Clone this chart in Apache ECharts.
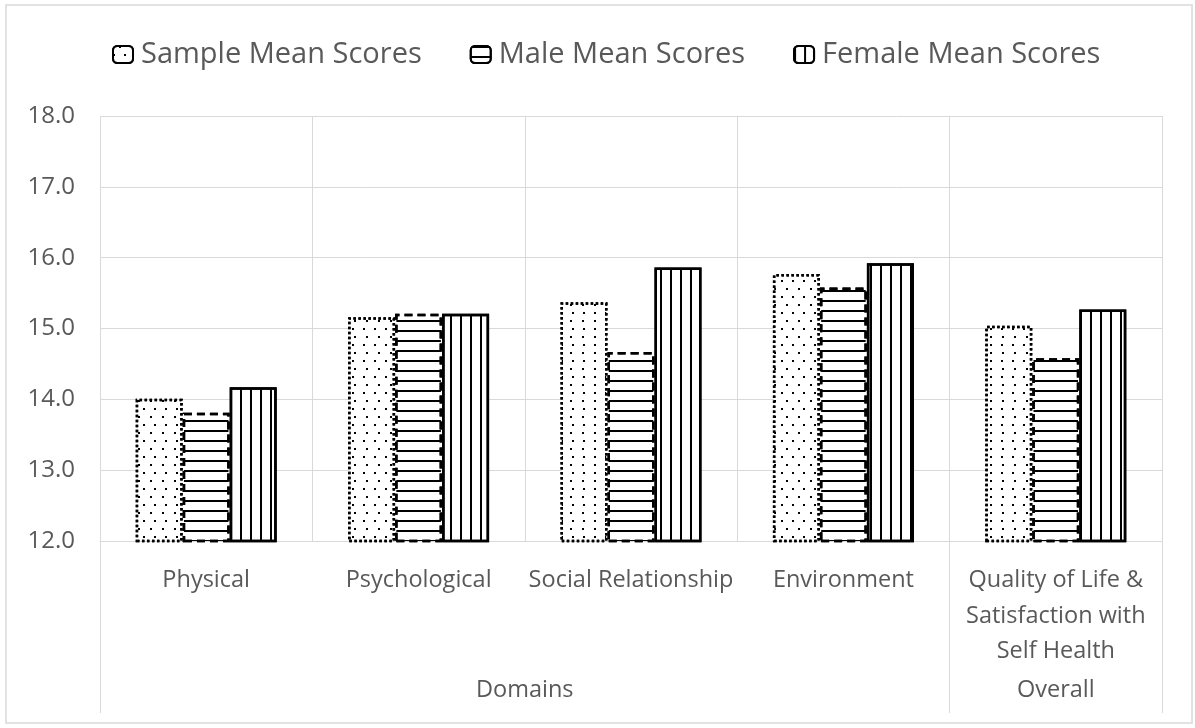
<!DOCTYPE html>
<html>
<head>
<meta charset="utf-8">
<script src="https://cdn.jsdelivr.net/npm/echarts@6/dist/echarts.min.js"></script>
<style>
  html, body { margin: 0; padding: 0; background: #fff; }
  #main { width: 1195px; height: 728px; }
</style>
</head>
<body>
<div id="main"></div>
<script>
// values
const categories = ['Physical', 'Psychological', 'Social Relationship', 'Environment',
    'Quality of Life &\nSatisfaction with\nSelf Health'];
const sampleMean = [14.01, 15.16, 15.37, 15.77, 15.04];
const maleMean = [13.81, 15.21, 14.67, 15.58, 14.58];
const femaleMean = [14.17, 15.21, 15.86, 15.92, 15.27];
const groupNames = ['Domains', 'Overall'];
const groupCenters = [2, 4.5];   // in category units
const groupEdges = [0, 4, 5];

const chart = echarts.init(document.getElementById('main'));
const font = '"Open Sans", "Noto Sans", sans-serif';
const gray = '#595959';
const gridColor = '#d9d9d9';

const option = {
    textStyle: { fontFamily: font },
    graphic: [{
        type: 'rect',
        shape: { x: 6, y: 5, width: 1186, height: 718 },
        style: { fill: 'none', stroke: gridColor, lineWidth: 1.5 },
        silent: true
    }],
    legend: {
        top: 35,
        left: 107,
        itemWidth: 20,
        itemHeight: 17,
        itemGap: 48,
        textStyle: { fontSize: 29, color: gray, fontFamily: font, padding: [0, 0, 0, 3] }
    },
    grid: { left: 100, right: 33, top: 116, bottom: 187 },
    xAxis: [{
        type: 'category',
        data: categories,
        axisLine: { lineStyle: { color: gridColor } },
        axisTick: { show: false },
        splitLine: { show: true, interval: 0, lineStyle: { color: gridColor, width: 1 } },
        axisLabel: {
            interval: 0, margin: 22, fontSize: 23.5, color: gray,
            lineHeight: 35.5, fontFamily: font
        }
    }, {
        type: 'value',
        min: 0,
        max: 5,
        position: 'bottom',
        axisLine: { show: false },
        splitLine: { show: false },
        axisTick: {
            show: true, length: 172, customValues: groupEdges,
            lineStyle: { color: gridColor, width: 1 }
        },
        axisLabel: {
            customValues: groupCenters,
            margin: 137, fontSize: 23.5, color: gray, fontFamily: font,
            formatter: v => groupNames[groupCenters.indexOf(v)] || ''
        }
    }],
    yAxis: {
        type: 'value',
        min: 12,
        max: 18,
        interval: 1,
        axisLine: { show: false },
        axisTick: { show: false },
        splitLine: { lineStyle: { color: gridColor, width: 1 } },
        axisLabel: {
            fontSize: 24, color: gray, margin: 25, fontFamily: font,
            formatter: v => v.toFixed(1)
        }
    },
    series: [{
        name: 'Sample Mean Scores',
        type: 'bar',
        data: sampleMean,
        barWidth: 47,
        barGap: '0%',
        itemStyle: {
            color: '#fff',
            borderColor: '#000',
            borderWidth: 2.5,
            borderType: 'dotted',
            decal: {
                symbol: 'rect',
                symbolSize: 1,
                color: '#000',
                backgroundColor: null,
                dashArrayX: [[2, 9], [0, 5.5, 2, 3.5]],
                dashArrayY: [2, 6]
            }
        }
    }, {
        name: 'Male Mean Scores',
        type: 'bar',
        data: maleMean,
        barWidth: 47,
        barGap: '0%',
        itemStyle: {
            color: '#fff',
            borderColor: '#000',
            borderWidth: 2.5,
            borderType: [8, 5],
            decal: {
                symbol: 'rect',
                symbolSize: 1,
                color: '#000',
                backgroundColor: null,
                dashArrayX: [1, 0],
                dashArrayY: [2, 7.2]
            }
        }
    }, {
        name: 'Female Mean Scores',
        type: 'bar',
        data: femaleMean,
        barWidth: 47,
        barGap: '0%',
        itemStyle: {
            color: '#fff',
            borderColor: '#000',
            borderWidth: 2.5,
            decal: {
                symbol: 'rect',
                symbolSize: 1,
                color: '#000',
                backgroundColor: null,
                dashArrayX: [2, 7.2],
                dashArrayY: [1, 0]
            }
        }
    }]
};
chart.setOption(option);
</script>
</body>
</html>
